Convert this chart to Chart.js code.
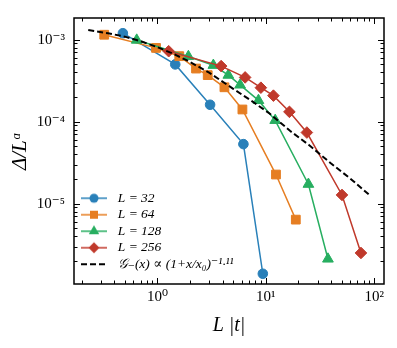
<!DOCTYPE html>
<html>
<head>
<meta charset="utf-8">
<script src="https://cdn.jsdelivr.net/npm/chart.js@4.4.0/dist/chart.umd.min.js"></script>
<style>
  html, body { margin: 0; padding: 0; background: #fff; }
</style>
</head>
<body>
<canvas id="chart" width="397" height="348"></canvas>
<script>
// values (log-log), one x/y pair of arrays per system size
const seriesNames = ['L = 32', 'L = 64', 'L = 128', 'L = 256'];
const x32 = [0.48, 1.46, 3.06, 6.21, 9.38];
const y32 = [1.20e-3, 5.0e-4, 1.61e-4, 5.33e-5, 1.40e-6];
const x64 = [0.323, 0.97, 1.59, 2.27, 2.91, 4.15, 6.08, 12.4, 18.9];
const y64 = [1.15e-3, 7.95e-4, 6.3e-4, 4.45e-4, 3.70e-4, 2.63e-4, 1.41e-4, 2.27e-5, 6.4e-6];
const x128 = [0.644, 1.93, 3.28, 4.51, 5.79, 8.55, 12.2, 24.7, 37.4];
const y128 = [9.9e-4, 6.25e-4, 4.88e-4, 3.70e-4, 2.81e-4, 1.82e-4, 1.04e-4, 1.73e-5, 2.12e-6];
const x256 = [1.27, 3.87, 6.44, 9.0, 11.75, 16.5, 23.9, 50.4, 75.4];
const y256 = [7.24e-4, 4.77e-4, 3.47e-4, 2.60e-4, 2.08e-4, 1.32e-4, 7.38e-5, 1.28e-5, 2.51e-6];

// dashed scaling curve
const fitName = '𝒢₋(x) ∝ (1+x/x₀)⁻¹·¹¹';
const xFit = [0.23, 0.35, 0.5, 0.7, 1.0, 1.4, 2.0, 3.0, 5.0, 7.5, 10.9, 16.8, 25, 40, 60, 89];
const yFit = [1.31e-3, 1.20e-3, 1.09e-3, 9.6e-4, 8.1e-4, 6.75e-4, 5.35e-4, 3.96e-4, 2.52e-4, 1.77e-4, 1.25e-4, 7.7e-5, 5.2e-5, 3.1e-5, 2.03e-5, 1.3e-5];

// axis labels at the decades
const xTickLabels = { '0': '10⁰', '1': '10¹', '2': '10²' };
const yTickLabels = { '-5': '10⁻⁵', '-4': '10⁻⁴', '-3': '10⁻³' };

const colors = ['#2980b9', '#e67e22', '#27ae60', '#c0392b'];
const markers = ['circle', 'rect', 'triangle', 'rectRot'];
const radii = [4.8, 6.2, 6.2, 5.8];
const serif = "'Liberation Serif', 'DejaVu Serif', serif";

function pts(xs, ys) {
    return xs.map((x, i) => ({ x: x, y: ys[i] }));
}

// small line+marker pictures for the legend
function legendIcon(color, style, dashed) {
    const c = document.createElement('canvas');
    c.width = 28; c.height = 14;
    const g = c.getContext('2d');
    g.strokeStyle = color;
    g.fillStyle = color;
    g.lineWidth = dashed ? 2 : 1.5;
    if (dashed) g.setLineDash([6, 3]);
    g.beginPath(); g.moveTo(1, 7); g.lineTo(27, 7); g.stroke();
    g.setLineDash([]);
    g.beginPath();
    if (style === 'circle') g.arc(14, 7, 4.5, 0, 2 * Math.PI);
    if (style === 'rect') g.rect(10, 3, 8, 8);
    if (style === 'triangle') { g.moveTo(14, 1); g.lineTo(19.2, 10); g.lineTo(8.8, 10); g.closePath(); }
    if (style === 'rectRot') { g.moveTo(14, 1.5); g.lineTo(19.5, 7); g.lineTo(14, 12.5); g.lineTo(8.5, 7); g.closePath(); }
    if (!dashed) g.fill();
    return c;
}

const allX = [x32, x64, x128, x256];
const allY = [y32, y64, y128, y256];

// fit first so it sits on top; L=256 above L=32 like the original
const datasets = [{
    label: fitName,
    data: pts(xFit, yFit),
    borderColor: '#000',
    borderWidth: 2,
    borderDash: [6, 3],
    pointRadius: 0,
    fill: false
}];
for (let i = 3; i >= 0; i--) {
    datasets.push({
        label: seriesNames[i],
        data: pts(allX[i], allY[i]),
        borderColor: colors[i],
        backgroundColor: colors[i],
        borderWidth: 1.5,
        pointStyle: markers[i],
        pointRadius: radii[i],
        pointBorderWidth: 1,
        fill: false
    });
}
const legendRank = [4, 3, 2, 1, 0];
const icons = [legendIcon('#000', null, true)];
for (let i = 3; i >= 0; i--) icons.push(legendIcon(colors[i], markers[i], false));

function decadeLabel(map) {
    return function (value) {
        const e = Math.log10(value);
        if (Math.abs(e - Math.round(e)) > 1e-6) return '';
        return map[String(Math.round(e))] || '';
    };
}

// box on all four sides with inward log ticks
const frameTicks = {
    id: 'frameTicks',
    afterLayout(chart) {
        // keep the legend inside the plot box, lower left
        const a = chart.chartArea;
        chart.legend.top = a.top;
        chart.legend.bottom = a.bottom - 10;
    },
    afterDraw(chart) {
        const { ctx, chartArea: a, scales } = chart;
        ctx.save();
        ctx.strokeStyle = '#000';
        ctx.lineWidth = 1;
        ['x', 'y'].forEach(key => {
            const s = scales[key];
            const lo = Math.floor(Math.log10(s.min)), hi = Math.ceil(Math.log10(s.max));
            for (let e = lo; e <= hi; e++) {
                for (let m = 1; m <= 9; m++) {
                    const v = m * Math.pow(10, e);
                    if (v < s.min || v > s.max) continue;
                    const p = Math.round(s.getPixelForValue(v)) + 0.5;
                    const len = m === 1 ? 6 : 3.5;
                    ctx.beginPath();
                    if (key === 'x') {
                        ctx.moveTo(p, a.bottom); ctx.lineTo(p, a.bottom - len);
                        ctx.moveTo(p, a.top); ctx.lineTo(p, a.top + len);
                    } else {
                        ctx.moveTo(a.left, p); ctx.lineTo(a.left + len, p);
                        ctx.moveTo(a.right, p); ctx.lineTo(a.right - len, p);
                    }
                    ctx.stroke();
                }
            }
        });
        ctx.lineWidth = 1.5;
        ctx.strokeRect(a.left, a.top, a.right - a.left, a.bottom - a.top);
        ctx.restore();
    }
};

new Chart(document.getElementById('chart'), {
    type: 'line',
    data: { datasets: datasets },
    options: {
        responsive: false,
        animation: false,
        layout: { padding: { left: 0, top: 12, right: 13, bottom: 0 } },
        scales: {
            x: {
                type: 'logarithmic',
                min: 0.17,
                max: 123,
                afterFit: s => { s.height = 64; },
                grid: { display: false, drawTicks: false },
                border: { display: false },
                ticks: {
                    autoSkip: false,
                    maxRotation: 0,
                    padding: 4,
                    color: '#000',
                    font: { family: serif, size: 15 },
                    callback: decadeLabel(xTickLabels)
                },
                title: {
                    display: true,
                    text: 'L |t|',
                    color: '#000',
                    font: { family: serif, size: 20, style: 'italic' },
                    padding: { top: 0, bottom: 10 }
                }
            },
            y: {
                type: 'logarithmic',
                min: 1.05e-6,
                max: 1.84e-3,
                afterFit: s => { s.width = 74; },
                grid: { display: false, drawTicks: false },
                border: { display: false },
                ticks: {
                    autoSkip: false,
                    padding: 9,
                    color: '#000',
                    font: { family: serif, size: 15 },
                    callback: decadeLabel(yTickLabels)
                },
                title: {
                    display: true,
                    text: 'Δ/Lᵅ',
                    color: '#000',
                    font: { family: serif, size: 21, style: 'italic' },
                    padding: { top: 8, bottom: 0 }
                }
            }
        },
        plugins: {
            tooltip: { enabled: false },
            legend: {
                position: 'chartArea',
                align: 'end',
                labels: {
                    usePointStyle: true,
                    pointStyleWidth: 34,
                    padding: 3,
                    color: '#000',
                    font: { family: serif, size: 13.5, style: 'italic' },
                    generateLabels: chart => {
                        const items = Chart.defaults.plugins.legend.labels.generateLabels(chart);
                        items.forEach(it => { it.pointStyle = icons[it.datasetIndex]; });
                        return items;
                    },
                    sort: (a, b) => legendRank[a.datasetIndex] - legendRank[b.datasetIndex]
                }
            }
        }
    },
    plugins: [frameTicks]
});
</script>
</body>
</html>
